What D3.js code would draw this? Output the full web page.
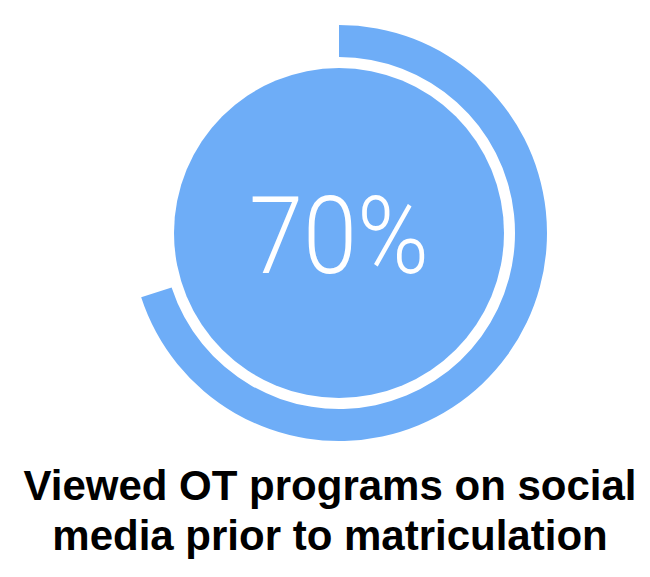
<!DOCTYPE html>
<html>
<head>
<meta charset="utf-8">
<script src="https://cdn.jsdelivr.net/npm/d3@7"></script>
<style>
  html, body { margin: 0; padding: 0; background: #fff; }
  svg { display: block; }
</style>
</head>
<body>
<div id="chart"></div>
<script>
// data
const shares = [0.70];
const shareLabels = ['70%'];
const titleLines = ['Viewed OT programs on social', 'media prior to matriculation'];

const W = 650, H = 577;
const cx = 339, cy = 233;
const discR = 165, ringInner = 176, ringOuter = 208;
const blue = '#6eadf7';

const svg = d3.select('#chart').append('svg')
    .attr('width', W)
    .attr('height', H);

const angle = d3.scaleLinear().domain([0, 1]).range([0, 2 * Math.PI]);

const g = svg.append('g').attr('transform', `translate(${cx},${cy})`);

// outer progress ring
const arc = d3.arc()
    .innerRadius(ringInner)
    .outerRadius(ringOuter)
    .startAngle(0);

g.selectAll('.ring')
    .data(shares)
    .join('path')
    .attr('class', 'ring')
    .attr('d', d => arc({ endAngle: angle(d) }))
    .style('fill', blue);

// filled disc
g.append('circle')
    .attr('r', discR)
    .style('fill', blue);

// big number
g.selectAll('.big')
    .data(shareLabels)
    .join('text')
    .attr('class', 'big')
    .attr('x', 0)
    .attr('y', 40)
    .attr('text-anchor', 'middle')
    .attr('textLength', 180)
    .attr('lengthAdjust', 'spacingAndGlyphs')
    .style('font-family', 'Roboto, sans-serif')
    .style('font-weight', '300')
    .style('font-size', '108px')
    .style('fill', '#fff')
    .text(d => d);

// title below
svg.append('g')
    .selectAll('text')
    .data(titleLines)
    .join('text')
    .attr('x', 330)
    .attr('y', (d, i) => 500 + i * 50)
    .attr('text-anchor', 'middle')
    .style('font-family', '"Liberation Sans", Arial, sans-serif')
    .style('font-weight', 'bold')
    .style('font-size', '42px')
    .style('fill', '#000')
    .text(d => d);
</script>
</body>
</html>
